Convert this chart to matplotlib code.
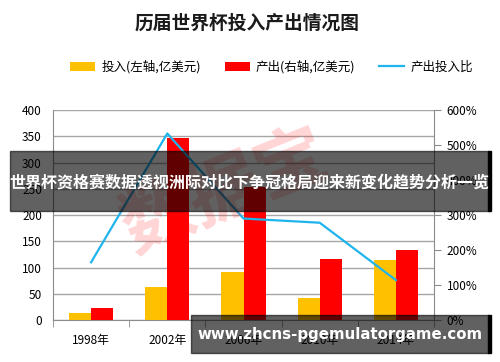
import numpy as np
import matplotlib
matplotlib.use("Agg")
import matplotlib.pyplot as plt
from matplotlib.patches import Rectangle
from matplotlib.ticker import FuncFormatter

plt.rcParams['font.family'] = ['Noto Sans CJK SC', 'DejaVu Sans']
plt.rcParams['axes.unicode_minus'] = False

years = ['1998年', '2002年', '2006年', '2010年', '2014年']
invest = [13, 63, 91, 42, 115]
output = [23, 346, 254, 117, 133]
ratio = [165, 533, 290, 278, 114]

fig = plt.figure(figsize=(5, 3.62), dpi=100)
ax = fig.add_axes([0.106, 0.116, 0.762, 0.58])
ax2 = ax.twinx()

x = np.arange(len(years))
w = 0.29
b1 = ax.bar(x - w / 2, invest, w, color='#FFC000', zorder=3, label='投入(左轴,亿美元)')
b2 = ax.bar(x + w / 2, output, w, color='#FF0000', zorder=3, label='产出(右轴,亿美元)')
l1, = ax2.plot(x, ratio, color='#1FB4EC', lw=1.6, zorder=4, label='产出投入比')

ax.set_xlim(-0.5, len(years) - 0.5)
ax.set_ylim(0, 400)
ax.set_yticks(range(0, 401, 50))
ax2.set_ylim(0, 600)
ax2.set_yticks(range(0, 601, 100))
ax2.yaxis.set_major_formatter(FuncFormatter(lambda v, p: '%d%%' % v))

ax.grid(axis='y', color='#A6A6A6', lw=1, zorder=0)
ax.set_axisbelow(True)
ax.set_xticks(x)
ax.set_xticklabels(years, fontsize=8.5)
ax.set_xticks(np.arange(-0.5, len(years), 1), minor=True)
ax.tick_params(axis='x', which='major', length=0, pad=10)
ax.tick_params(axis='x', which='minor', length=5, color='#8C8C8C', direction='out')
ax.tick_params(axis='y', length=0, labelsize=8.5, pad=8)
ax2.tick_params(axis='y', length=5, color='#8C8C8C', labelsize=8.5, pad=4)
for a in (ax, ax2):
    a.spines['top'].set_visible(False)
    for s in ('left', 'right', 'bottom'):
        a.spines[s].set_color('#8C8C8C')
ax.spines['right'].set_visible(False)
ax2.spines['left'].set_visible(False)
ax2.spines['bottom'].set_visible(False)

fig.text(0.494, 0.936, '历届世界杯投入产出情况图', ha='center', va='center',
         fontsize=13.5, fontweight='bold', color='#1a1a1a')
fig.legend(handles=[b1, b2, l1], loc='center', bbox_to_anchor=(0.543, 0.815),
           ncol=3, frameon=False, fontsize=9, handlelength=2.0,
           columnspacing=1.9, handletextpad=0.5)

# watermark
fig.text(0.45, 0.47, '数据宝', ha='center', va='center', fontsize=52,
         fontweight='bold', color='#FF0000', alpha=0.17, rotation=22)

# dark band with headline
fig.patches.append(Rectangle((0.02, 1 - 211 / 362), 0.958, 60 / 362,
                             transform=fig.transFigure, color='black', alpha=0.62,
                             zorder=10))
fig.patches.append(Rectangle((0.976, 1 - 211 / 362), 0.006, 60 / 362,
                             transform=fig.transFigure, color='black', zorder=10))
fig.text(0.498, 1 - 182 / 362, '世界杯资格赛数据透视洲际对比下争冠格局迎来新变化趋势分析一览',
         ha='center', va='center', fontsize=11.5, fontweight='bold', color='white',
         zorder=11)

# bottom banner
fig.patches.append(Rectangle((0.382, 1 - 353 / 362), 0.596, 38 / 362,
                             transform=fig.transFigure, color='black', alpha=0.62,
                             zorder=10))
fig.patches.append(Rectangle((0.976, 1 - 353 / 362), 0.006, 38 / 362,
                             transform=fig.transFigure, color='black', zorder=10))
fig.text(0.681, 1 - 334 / 362, 'www.zhcns-pgemulatorgame.com', ha='center', va='center',
         fontsize=10.8, fontweight='bold', color='white', family='DejaVu Sans', zorder=11)

fig.savefig('out.png', dpi=100)
